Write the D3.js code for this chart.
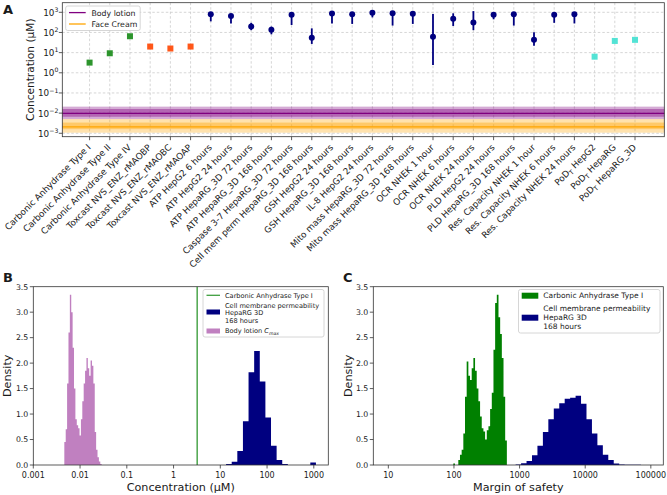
<!DOCTYPE html>
<html><head><meta charset="utf-8">
<script src="https://cdn.jsdelivr.net/npm/d3@7"></script>
<style>body{margin:0;background:#fff} text{font-family:"DejaVu Sans",sans-serif;fill:#1a1a1a}</style>
</head><body><svg id="c" width="667" height="495"></svg>
<script>
// ---------- DATA ----------
const categories = ["Carbonic Anhydrase Type I","Carbonic Anhydrase Type II","Carbonic Anhydrase Type IV","Toxcast NVS_ENZ_rMAOBP","Toxcast NVS_ENZ_rMAOBC","Toxcast NVS_ENZ_rMAOAP","ATP HepG2 6 hours","ATP HepG2 24 hours","ATP HepaRG_3D 72 hours","ATP HepaRG_3D 168 hours","Caspase 3-7 HepaRG_3D 72 hours","Cell mem perm HepaRG_3D 168 hours","GSH HepG2 24 hours","GSH HepaRG_3D 168 hours","IL-8 HepG2 24 hours","Mito mass HepaRG_3D 72 hours","Mito mass HepaRG_3D 168 hours","OCR NHEK 1 hour","OCR NHEK 6 hours","OCR NHEK 24 hours","PLD HepG2 24 hours","PLD HepaRG_3D 168 hours","Res. Capacity NHEK 1 hour","Res. Capacity NHEK 6 hours","Res. Capacity NHEK 24 hours","PoD_T HepG2","PoD_T HepaRG","PoD_T HepaRG_3D"];
const pointGroups = ["ca","ca","ca","mao","mao","mao","vitro","vitro","vitro","vitro","vitro","vitro","vitro","vitro","vitro","vitro","vitro","vitro","vitro","vitro","vitro","vitro","vitro","vitro","vitro","pod","pod","pod"];
const pointValues = [3.2,9.3,65,20,16,20,795,660,195,138,760,55,870,800,950,890,850,62,480,315,760,800,44,760,795,6.3,38,43];
const errLow  = [null,null,null,null,null,null,355,280,130,81,235,27,280,265,560,220,265,2.45,210,130,450,220,22,300,280,null,null,null];
const errHigh = [null,null,null,null,null,null,1000,800,300,195,1000,160,1000,960,1120,1000,1000,830,890,1150,890,890,102,890,890,null,null,null];
// exposure bands: [outerLow, innerLow, median, innerHigh, outerHigh]
const bodyLotionLevels = [0.0051,0.0066,0.0098,0.016,0.021];
const faceCreamLevels  = [0.00107,0.0016,0.0021,0.0034,0.0051];
const yTicksA = [1e-3,1e-2,1e-1,1e0,1e1,1e2,1e3];

// Panel B histograms (log-spaced bins: [min, max] and densities)
const lotionRange = [0.00461,0.029];
const lotionDensity = [0.45,0.7,1.6,2.6,3.34,3.0,2.3,1.5,0.9,0.78,0.72,0.58,0.9,1.25,1.6,1.85,2.1,1.9,1.75,2.05,1.95,1.6,0.65,0.3,0.15,0.07,0.02];
const cellPermConcRange = [13.3,1110];
const cellPermConcDensity = [0.02,0.065,0.275,0.86,1.82,2.24,1.64,0.93,0.38,0.1,0.02,0,0,0,0,0.05];
const caTypeIConc = 3.2;
const xTicksB = [0.001,0.01,0.1,1,10,100,1000];
const xTickLabelsB = ["0.001","0.01","0.1","1","10","100","1000"];
const yTicksDensity = [0,0.5,1,1.5,2,2.5,3,3.5];

// Panel C histograms (margin of safety)
const caMosRange = [97.7,640];
const caMosDensity = [0.03,0,0,0.1,0.2,0.3,0.62,1.34,2.03,1.75,1.67,1.9,2.1,1.85,1.5,1.25,0.95,0.72,0.66,0.5,0.68,0.76,1.1,1.42,2.26,3.18,3.34,2.9,2.57,2.1,1.34,0.48];
const cellPermMosRange = [871,70800];
const cellPermMosDensity = [0.01,0.035,0.08,0.19,0.38,0.65,0.9,1.11,1.21,1.3,1.32,1.36,1.2,0.9,0.62,0.39,0.2,0.1,0.03,0.01,0.005,0.005,0.003];
const xTicksC = [10,100,1000,10000,100000];

// ---------- DRAW ----------
const svg = d3.select("#c");
svg.append("rect").attr("width",667).attr("height",495).attr("fill","#fff");
const SP = "#333";

function supLabel(sel, base, exp, x, y, size){
  const t = sel.append("text").attr("x",x).attr("y",y).attr("text-anchor","end").attr("font-size",size);
  t.append("tspan").text(base);
  t.append("tspan").attr("dy",-size*0.45).attr("font-size",size*0.7).text(exp);
}

// ---- Panel A ----
const A = {l:62.3, r:664.3, t:2.7, b:136.7};
const xA = d3.scaleLinear().domain([-1.35,28.45]).range([A.l,A.r]);
const yA = d3.scaleLog().domain([Math.pow(10,-3.169),Math.pow(10,3.476)]).range([A.b,A.t]);
const gA = svg.append("g");
// grid
gA.selectAll(".vg").data(categories).enter().append("line")
  .attr("x1",(d,i)=>xA(i)).attr("x2",(d,i)=>xA(i)).attr("y1",A.t).attr("y2",A.b)
  .attr("stroke","#c4c4c4").attr("stroke-width",0.7).attr("stroke-dasharray","2.5,2");
gA.selectAll(".hg").data(yTicksA).enter().append("line")
  .attr("x1",A.l).attr("x2",A.r).attr("y1",d=>yA(d)).attr("y2",d=>yA(d))
  .attr("stroke","#c4c4c4").attr("stroke-width",0.7).attr("stroke-dasharray","2.5,2");
// bands
function band(levels,color,op1,op2){
  gA.append("rect").attr("x",A.l).attr("width",A.r-A.l).attr("y",yA(levels[4])).attr("height",yA(levels[0])-yA(levels[4])).attr("fill",color).attr("fill-opacity",op1);
  gA.append("rect").attr("x",A.l).attr("width",A.r-A.l).attr("y",yA(levels[3])).attr("height",yA(levels[1])-yA(levels[3])).attr("fill",color).attr("fill-opacity",op2);
}
band(faceCreamLevels,"#FFA500",0.32,0.4);
band(bodyLotionLevels,"#800080",0.33,0.4);
gA.append("line").attr("x1",A.l).attr("x2",A.r).attr("y1",yA(faceCreamLevels[2])).attr("y2",yA(faceCreamLevels[2])).attr("stroke","#FFA500").attr("stroke-width",1.3);
gA.append("line").attr("x1",A.l).attr("x2",A.r).attr("y1",yA(bodyLotionLevels[2])).attr("y2",yA(bodyLotionLevels[2])).attr("stroke","#800080").attr("stroke-width",1.3);
// points
const colA = {ca:"#168a16", mao:"#FF4500", pod:"#40E0D0", vitro:"#000080"};
pointValues.forEach((v,i)=>{
  const g = pointGroups[i];
  if(g==="vitro"){
    gA.append("line").attr("x1",xA(i)).attr("x2",xA(i)).attr("y1",yA(errLow[i])).attr("y2",yA(errHigh[i])).attr("stroke","#000080").attr("stroke-width",1.8);
    gA.append("circle").attr("cx",xA(i)).attr("cy",yA(v)).attr("r",3).attr("fill","#000080");
  } else {
    gA.append("rect").attr("x",xA(i)-3).attr("y",yA(v)-3).attr("width",6).attr("height",6).attr("fill",colA[g]).attr("fill-opacity",0.9);
  }
});
// frame
gA.append("rect").attr("x",A.l).attr("y",A.t).attr("width",A.r-A.l).attr("height",A.b-A.t).attr("fill","none").attr("stroke",SP).attr("stroke-width",0.8);
// y ticks
gA.selectAll(".yt").data(yTicksA).enter().append("line").attr("x1",A.l-3.5).attr("x2",A.l).attr("y1",d=>yA(d)).attr("y2",d=>yA(d)).attr("stroke",SP).attr("stroke-width",0.8);
yTicksA.forEach(d=>{ const e=Math.round(Math.log10(d)); supLabel(gA,"10",(e<0?"\u2212":"")+Math.abs(e),A.l-4,yA(d)+3.5,8.8); });
// x ticks + labels
categories.forEach((c,i)=>{
  const x = xA(i);
  gA.append("line").attr("x1",x).attr("x2",x).attr("y1",A.b).attr("y2",A.b+3.5).attr("stroke",SP).attr("stroke-width",0.8);
  const t = gA.append("text").attr("text-anchor","end").attr("font-size",8.8)
    .attr("transform",`translate(${x-0.5},${A.b+9}) rotate(-45)`).attr("dy","0.35em");
  if(c.startsWith("PoD_T")){
    t.append("tspan").text("PoD");
    t.append("tspan").attr("font-size",6.2).attr("dy",2).text("T");
    t.append("tspan").attr("dy",-2).text(c.slice(5));
  } else t.text(c);
});
svg.append("text").attr("transform",`translate(34,${(A.t+A.b)/2}) rotate(-90)`).attr("text-anchor","middle").attr("font-size",10.6).text("Concentration (\u03bcM)");
// legend A
const lgA = svg.append("g");
lgA.append("rect").attr("x",65.7).attr("y",6).attr("width",74.5).attr("height",24.5).attr("rx",2).attr("fill","#fff").attr("fill-opacity",0.85).attr("stroke","#ccc").attr("stroke-width",0.8);
lgA.append("line").attr("x1",69).attr("x2",85.7).attr("y1",12.6).attr("y2",12.6).attr("stroke","#800080").attr("stroke-width",1.3);
lgA.append("line").attr("x1",69).attr("x2",85.7).attr("y1",24).attr("y2",24).attr("stroke","#FFA500").attr("stroke-width",1.3);
lgA.append("text").attr("x",91.5).attr("y",15.6).attr("font-size",7.8).text("Body lotion");
lgA.append("text").attr("x",91.5).attr("y",27).attr("font-size",7.8).text("Face Cream");
svg.append("text").attr("x",3).attr("y",13.5).attr("font-size",13).attr("font-weight","bold").text("A");

// ---- histogram helper ----
function histPath(g, xs, ys, range, dens, color){
  const lo = Math.log10(range[0]), hi = Math.log10(range[1]), w = (hi-lo)/dens.length;
  const p = d3.path();
  p.moveTo(xs(range[0]), ys(0));
  dens.forEach((d,i)=>{
    const x0 = xs(Math.pow(10,lo+i*w)), x1 = xs(Math.pow(10,lo+(i+1)*w));
    p.lineTo(x0, ys(d)); p.lineTo(x1, ys(d));
  });
  p.lineTo(xs(range[1]), ys(0)); p.closePath();
  g.append("path").attr("d",p.toString()).attr("fill",color);
}
function frameAxes(g, P, xs, ys, xt, xl){
  g.append("rect").attr("x",P.l).attr("y",P.t).attr("width",P.r-P.l).attr("height",P.b-P.t).attr("fill","none").attr("stroke",SP).attr("stroke-width",0.8);
  xt.forEach((d,i)=>{
    g.append("line").attr("x1",xs(d)).attr("x2",xs(d)).attr("y1",P.b).attr("y2",P.b+3.5).attr("stroke",SP).attr("stroke-width",0.8);
    g.append("text").attr("x",xs(d)).attr("y",P.b+12.5).attr("text-anchor","middle").attr("font-size",8).text(xl[i]);
  });
  yTicksDensity.forEach(d=>{
    g.append("line").attr("x1",P.l-3.5).attr("x2",P.l).attr("y1",ys(d)).attr("y2",ys(d)).attr("stroke",SP).attr("stroke-width",0.8);
    g.append("text").attr("x",P.l-5).attr("y",ys(d)+2.8).attr("text-anchor","end").attr("font-size",7.8).text(d3.format(".1f")(d));
  });
}

// ---- Panel B ----
const B = {l:33.3, r:328.3, t:286.7, b:465};
const xB = d3.scaleLog().domain([1e-3,Math.pow(10,3.31)]).range([B.l,B.r]);
const yB = d3.scaleLinear().domain([0,3.5]).range([B.b,B.t]);
const gB = svg.append("g");
histPath(gB,xB,yB,lotionRange,lotionDensity,"#c080c0");
histPath(gB,xB,yB,cellPermConcRange,cellPermConcDensity,"#000080");
gB.append("line").attr("x1",xB(caTypeIConc)).attr("x2",xB(caTypeIConc)).attr("y1",B.t).attr("y2",B.b).attr("stroke","#3f9f3f").attr("stroke-width",1.4);
frameAxes(gB,B,xB,yB,xTicksB,xTickLabelsB);
svg.append("text").attr("x",(B.l+B.r)/2).attr("y",490.5).attr("text-anchor","middle").attr("font-size",11.2).text("Concentration (\u03bcM)");
svg.append("text").attr("transform",`translate(11,${(B.t+B.b)/2}) rotate(-90)`).attr("text-anchor","middle").attr("font-size",11.2).text("Density");
const lgB = svg.append("g");
lgB.append("rect").attr("x",203).attr("y",289.5).attr("width",121).attr("height",47.5).attr("rx",2).attr("fill","#fff").attr("stroke","#ccc").attr("stroke-width",0.8);
lgB.append("line").attr("x1",206.5).attr("x2",220).attr("y1",295.3).attr("y2",295.3).attr("stroke","#3f9f3f").attr("stroke-width",1.3);
lgB.append("text").attr("x",225).attr("y",297.5).attr("font-size",6.6).text("Carbonic Anhydrase Type I");
lgB.append("rect").attr("x",206.5).attr("y",309.5).attr("width",13.5).attr("height",5).attr("fill","#000080");
lgB.append("text").attr("x",225).attr("y",307.5).attr("font-size",6.6).text("Cell membrane permeability");
lgB.append("text").attr("x",225).attr("y",315).attr("font-size",6.6).text("HepaRG 3D");
lgB.append("text").attr("x",225).attr("y",322.7).attr("font-size",6.6).text("168 hours");
lgB.append("rect").attr("x",206.5).attr("y",328.5).attr("width",13.5).attr("height",5).attr("fill","#c080c0");
const tb = lgB.append("text").attr("x",225).attr("y",333).attr("font-size",6.6);
tb.append("tspan").text("Body lotion ");
tb.append("tspan").attr("font-style","italic").text("C");
tb.append("tspan").attr("font-style","italic").attr("font-size",4.6).attr("dy",1.5).text("max");
svg.append("text").attr("x",3).attr("y",281.5).attr("font-size",13).attr("font-weight","bold").text("B");

// ---- Panel C ----
const C = {l:373.3, r:663.3, t:286.7, b:465};
const xC = d3.scaleLog().domain([Math.pow(10,0.771),Math.pow(10,5.19)]).range([C.l,C.r]);
const yC = d3.scaleLinear().domain([0,3.5]).range([C.b,C.t]);
const gC = svg.append("g");
histPath(gC,xC,yC,caMosRange,caMosDensity,"#008000");
histPath(gC,xC,yC,cellPermMosRange,cellPermMosDensity,"#000080");
frameAxes(gC,C,xC,yC,xTicksC,xTicksC.map(String));
svg.append("text").attr("x",(C.l+C.r)/2).attr("y",490.5).attr("text-anchor","middle").attr("font-size",11.2).text("Margin of safety");
svg.append("text").attr("transform",`translate(352,${(C.t+C.b)/2}) rotate(-90)`).attr("text-anchor","middle").attr("font-size",11.2).text("Density");
const lgC = svg.append("g");
lgC.append("rect").attr("x",518.5).attr("y",289.5).attr("width",141.5).attr("height",43.5).attr("rx",2).attr("fill","#fff").attr("stroke","#ccc").attr("stroke-width",0.8);
lgC.append("rect").attr("x",521.7).attr("y",292.7).attr("width",16.6).attr("height",6).attr("fill","#008000");
lgC.append("text").attr("x",543.3).attr("y",298.4).attr("font-size",7.5).text("Carbonic Anhydrase Type I");
lgC.append("rect").attr("x",521.7).attr("y",314.7).attr("width",16.6).attr("height",6).attr("fill","#000080");
lgC.append("text").attr("x",543.3).attr("y",311).attr("font-size",7.5).text("Cell membrane permeability");
lgC.append("text").attr("x",543.3).attr("y",320.3).attr("font-size",7.5).text("HepaRG 3D");
lgC.append("text").attr("x",543.3).attr("y",328.5).attr("font-size",7.5).text("168 hours");
svg.append("text").attr("x",343).attr("y",281.5).attr("font-size",13).attr("font-weight","bold").text("C");
</script></body></html>
